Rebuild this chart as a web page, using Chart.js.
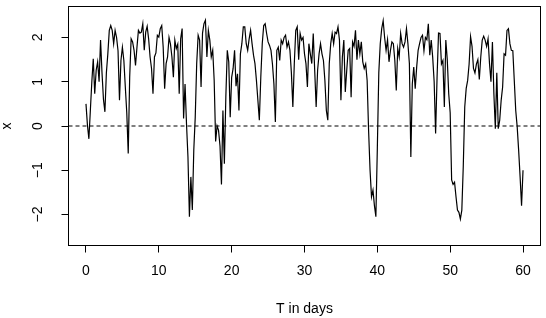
<!DOCTYPE html>
<html>
<head>
<meta charset="utf-8">
<script src="https://cdn.jsdelivr.net/npm/chart.js@4.4.1/dist/chart.umd.min.js"></script>
<style>
  html, body { margin: 0; padding: 0; background: #fff; }
  canvas { display: block; }
</style>
</head>
<body>
<canvas id="myChart" width="546" height="318"></canvas>
<script>
// series, one value every 0.2 days starting at day 0
const dayStep = 0.2;
const xValues = [
  0.50, 0.02, -0.29, 0.35, 0.99,   1.52, 0.73, 1.26, 1.45, 1.00,
  1.94, 1.20, 0.60, 0.32, 1.20,    1.63, 2.16, 2.27, 2.16, 1.86,
  2.16, 2.00, 1.70, 0.58, 1.48,    1.78, 1.48, 0.88, 0.30, -0.62,
  1.10, 1.97, 1.90, 1.71, 1.37,    1.78, 2.16, 2.10, 2.12, 2.31,
  1.71, 2.12, 2.25, 1.97, 1.56,    1.30, 0.73, 1.56, 1.65, 2.05,
  2.01, 2.20, 2.27, 1.78, 0.84,    1.41, 1.56, 2.00, 1.85, 1.56,
  1.10, 1.94, 1.75, 1.85, 0.73,    1.97, 2.20, 0.17, 0.95, 0.05,
  -0.70, -2.05, -1.15, -1.90, -0.55,  0.20, 1.41, 2.05, 1.94, 0.88,
  2.10, 2.31, 2.39, 1.56, 2.16,    1.94, 1.56, 1.71, 1.03, -0.35,
  0.00, -0.10, -0.45, -1.32, 0.35, -0.85, 0.65, 1.71, 1.45, 0.20,
  1.10, 1.30, 1.71, 0.90, 1.18,    0.35, 1.63, 1.86, 2.24, 2.24,
  1.86, 1.71, 1.97, 2.16, 1.86, 1.60,
  1.41, 1.03, 0.58, 0.13, 1.10,    1.86, 2.27, 2.31, 2.09, 1.90,
  1.82, 1.71, 1.40, 0.95, 0.09,    1.71, 1.78, 1.48, 1.94, 1.86,
  2.00, 2.05, 1.78, 1.90, 1.71,    1.20, 0.43, 1.41, 2.16, 2.24,
  1.50, 2.09, 1.94, 2.00, 1.63,    1.41, 0.88, 1.86, 1.63, 1.41,
  2.09, 1.26, 0.43, 1.26, 1.63,    1.86, 1.63, 1.48, 1.03, 0.35,
  0.13, 1.41, 1.86, 2.09, 1.86,    2.12, 2.09, 2.24, 1.94, 0.58,
  1.56, 1.94, 0.77, 1.26, 1.71,    1.75, 0.65, 1.90, 1.80, 2.16,
  1.50, 1.94, 1.63, 1.90, 1.45,    1.30, 1.40, 1.03, -0.10, -1.00,
  -1.60, -1.45, -1.80, -2.05, -0.50,  1.20, 1.86, 2.20, 2.38, 2.00,
  1.71, 1.95, 1.45, 1.71, 1.90,    1.86, 1.48, 0.80, 1.75, 1.56,
  2.09, 1.86, 1.78, 1.90, 2.20,    1.86, 1.41, -0.70, 0.95, 1.33,
  0.84, 1.33, 1.71, 1.86, 2.00,
  2.05, 1.70, 2.00, 1.95, 2.31,    1.60, 1.94, 1.55, 1.00, -0.17,
  1.10, 2.10, 2.09, 1.40, 1.48,    0.43, 1.94, 1.50, 0.73, 0.30,
  -1.22, -1.32, -1.27, -1.60, -1.90, -1.95, -2.10, -1.90, -0.90, 0.43,
  0.85, 1.03, 1.40, 2.02, 1.80,    1.30, 1.20, 1.40, 1.50, 1.05,
  1.56, 1.94, 2.03, 1.94, 1.80,    1.97, 1.41, 1.00, 1.90, 0.73,
  -0.06, 1.20, -0.06, 0.13, 0.58,  0.88, 1.63, 1.60, 2.16, 2.20,
  1.86, 1.71, 1.70, 1.03, 0.35,    -0.02, -0.55, -1.15, -1.80, -1.00
];
const xTicks = [0, 10, 20, 30, 40, 50, 60];
const yTicks = [-2, -1, 0, 1, 2];
const zeroLevel = 0;
const xTitle = "T in days";
const yTitle = "x";

const font = "'Liberation Sans', Arial, Helvetica, sans-serif";
const points = xValues.map((v, i) => ({ x: Math.round(i * dayStep * 10) / 10, y: v }));

function fmt(v) {
  return v < 0 ? "\u2212" + Math.abs(v) : String(v);
}

// box round the plot, dashed line at zero, rotated y labels
const rPlot = {
  id: "rPlot",
  afterDatasetsDraw(chart) {
    const { ctx, chartArea: a, scales } = chart;
    ctx.save();
    ctx.strokeStyle = "#000";
    ctx.lineWidth = 1;
    const y0 = scales.y.getPixelForValue(zeroLevel);
    ctx.setLineDash([4, 3]);
    ctx.beginPath();
    ctx.moveTo(a.left, y0);
    ctx.lineTo(a.right, y0);
    ctx.stroke();
    ctx.setLineDash([]);
    ctx.strokeRect(a.left, a.top, a.right - a.left, a.bottom - a.top);

    ctx.fillStyle = "#000";
    ctx.font = "14px " + font;
    ctx.textAlign = "center";
    ctx.textBaseline = "middle";
    yTicks.forEach(v => {
      ctx.save();
      ctx.translate(38.5, scales.y.getPixelForValue(v));
      ctx.rotate(-Math.PI / 2);
      ctx.fillText(fmt(v), 0, 0);
      ctx.restore();
    });
    ctx.restore();
  }
};

const grid = { drawOnChartArea: false, drawTicks: true, tickLength: 7, color: "#000", lineWidth: 1 };

new Chart(document.getElementById("myChart"), {
  type: "line",
  data: {
    datasets: [{
      data: points,
      borderColor: "#000",
      borderWidth: 1.2,
      pointRadius: 0,
      tension: 0,
      fill: false
    }]
  },
  options: {
    responsive: false,
    animation: false,
    devicePixelRatio: 1,
    layout: { padding: { top: 6.5, right: 5.5, left: 0, bottom: 0 } },
    plugins: { legend: { display: false }, tooltip: { enabled: false } },
    scales: {
      x: {
        type: "linear",
        min: -2.4,
        max: 62.4,
        afterBuildTicks: s => { s.ticks = xTicks.map(v => ({ value: v })); },
        afterFit: s => { s.height = 72.5; },
        grid: grid,
        border: { display: false },
        ticks: {
          color: "#000", padding: 10, maxRotation: 0, autoSkip: false,
          font: { family: font, size: 14 },
          callback: v => fmt(v)
        },
        title: {
          display: true, text: xTitle, color: "#000",
          font: { family: font, size: 14 },
          padding: { top: 0, bottom: 0 }
        }
      },
      y: {
        type: "linear",
        min: -2.7,
        max: 2.7,
        afterBuildTicks: s => { s.ticks = yTicks.map(v => ({ value: v })); },
        afterFit: s => { s.width = 68.5; },
        grid: grid,
        border: { display: false },
        ticks: { display: false },
        title: {
          display: true, text: yTitle, color: "#000",
          font: { family: font, size: 14, lineHeight: 1 },
          padding: 0
        }
      }
    }
  },
  plugins: [rPlot]
});
</script>
</body>
</html>
